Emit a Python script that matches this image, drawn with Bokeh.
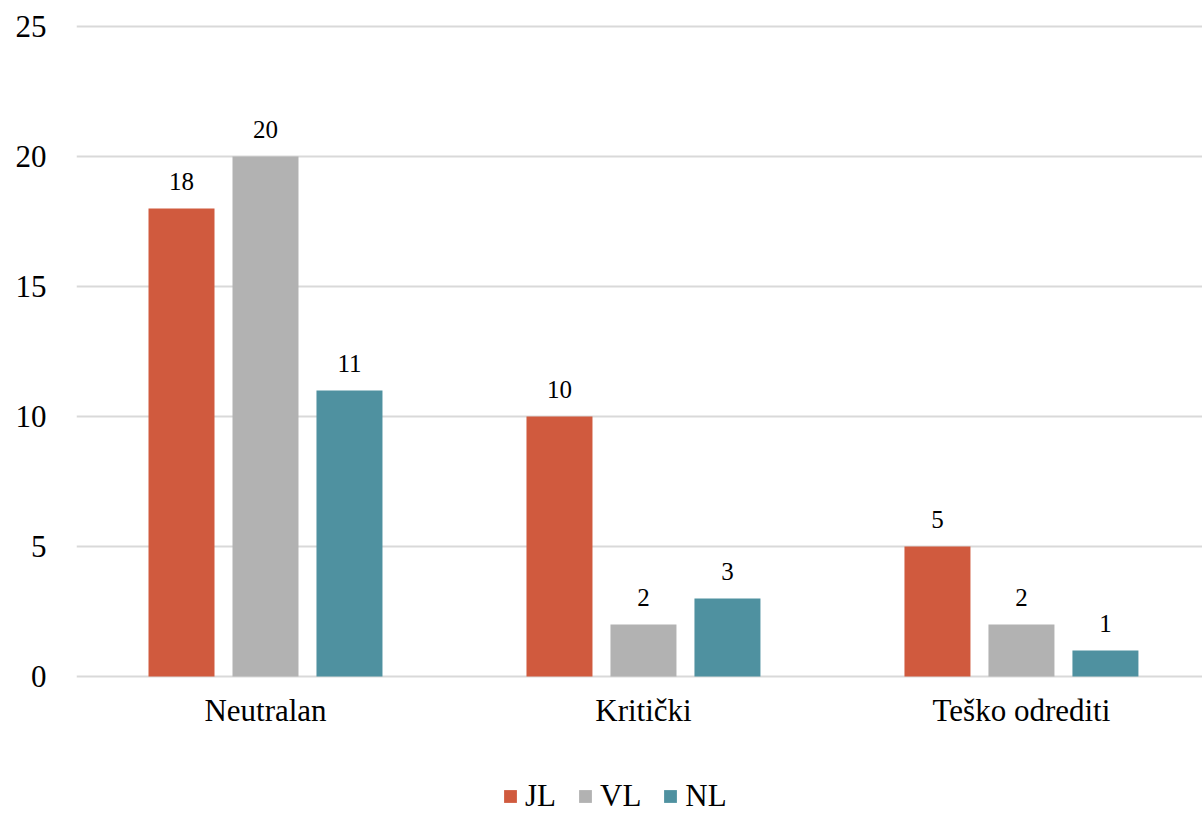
from bokeh.plotting import figure
from bokeh.models import ColumnDataSource, Range1d, FixedTicker, Legend, LegendItem
from bokeh.transform import dodge
from bokeh.core.properties import value
from bokeh.embed import file_html
from bokeh.resources import INLINE

categories = ["Neutralan", "Kritički", "Teško odrediti"]
series_names = ["JL", "VL", "NL"]
jl = [18, 10, 5]
vl = [20, 2, 2]
nl = [11, 3, 1]
y_ticks = [0, 5, 10, 15, 20, 25]

colors = ["#D05A3E", "#B2B2B2", "#4F91A0"]
FONT = "Liberation Serif"

xpos = [i + 0.5 for i in range(len(categories))]
src = ColumnDataSource(dict(
    x=xpos,
    JL=jl, VL=vl, NL=nl,
    JL_t=[str(v) for v in jl], VL_t=[str(v) for v in vl], NL_t=[str(v) for v in nl],
))

p = figure(frame_width=1126, frame_height=814, output_backend="svg", toolbar_location=None,
           x_range=Range1d(0, 2.979), y_range=Range1d(-5.3077, 26),
           min_border_left=76, min_border_right=0, min_border_top=0, min_border_bottom=0)
p.background_fill_color = "#ffffff"
p.border_fill_color = "#ffffff"
p.outline_line_color = None

offsets = [-0.2222, 0.0, 0.2222]
renderers = []
for name, off, col in zip(series_names, offsets, colors):
    r = p.vbar(x=dodge("x", off, range=p.x_range), top=name, width=0.1746, bottom=0,
               source=src, fill_color=col, line_color=None)
    renderers.append(r)
    p.text(x=dodge("x", off, range=p.x_range), y=name, text=name + "_t", source=src,
           text_align="center", text_baseline="alphabetic", y_offset=-27,
           text_font=value(FONT), text_font_size="25px", text_color="#000000")

# axes
p.xaxis.ticker = FixedTicker(ticks=xpos)
p.xaxis.major_label_overrides = {x: c for x, c in zip(xpos, categories)}
p.xaxis.fixed_location = 0
p.yaxis.ticker = FixedTicker(ticks=y_ticks)
for ax in (p.xaxis[0], p.yaxis[0]):
    ax.axis_line_color = None
    ax.major_tick_line_color = None
    ax.minor_tick_line_color = None
    ax.major_label_text_font = FONT
    ax.major_label_text_font_size = "31px"
    ax.major_label_text_color = "#000000"
p.yaxis.major_label_standoff = 24
p.xaxis.major_label_standoff = 11

p.xgrid.grid_line_color = None
p.ygrid.grid_line_color = "#d9d9d9"
p.ygrid.grid_line_width = 2

legend = Legend(items=[LegendItem(label=n, renderers=[r]) for n, r in zip(series_names, renderers)],
                orientation="horizontal", location=(426, 0),
                label_text_font=FONT, label_text_font_size="31px", label_text_color="#000000",
                glyph_width=16, glyph_height=16, label_standoff=7, spacing=21,
                border_line_color=None, background_fill_alpha=0, padding=0, margin=0)
p.add_layout(legend, "center")

open("out.html", "w").write(file_html(p, INLINE))
